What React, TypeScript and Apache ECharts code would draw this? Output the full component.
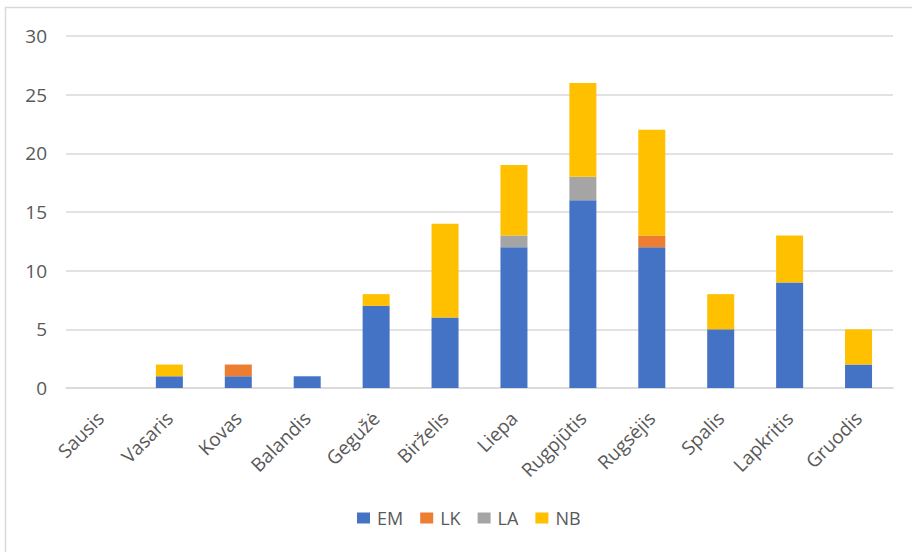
import React, { useEffect, useRef } from "react";
import * as echarts from "echarts";

const categories = ["Sausis", "Vasaris", "Kovas", "Balandis", "Gegužė", "Birželis", "Liepa", "Rugpjūtis", "Rugsėjis", "Spalis", "Lapkritis", "Gruodis"];
const emValues = [0, 1, 1, 1, 7, 6, 12, 16, 12, 5, 9, 2];
const lkValues = [0, 0, 1, 0, 0, 0, 0, 0, 1, 0, 0, 0];
const laValues = [0, 0, 0, 0, 0, 0, 1, 2, 0, 0, 0, 0];
const nbValues = [0, 1, 0, 0, 1, 8, 6, 8, 9, 3, 4, 3];

const seriesNames = ["EM", "LK", "LA", "NB"];
const seriesColors = ["#4472C4", "#ED7D31", "#A5A5A5", "#FFC000"];
const seriesData = [emValues, lkValues, laValues, nbValues];

const FONT = "'Open Sans', 'Noto Sans', sans-serif";

export default function App() {
  const ref = useRef<HTMLDivElement>(null);
  useEffect(() => {
    document.body.style.margin = "0";
    const chart = echarts.init(ref.current!, null, { renderer: "svg" });
    chart.setOption({
      animation: false,
      backgroundColor: "#ffffff",
      textStyle: { fontFamily: FONT },
      graphic: [
        {
          type: "rect",
          shape: { x: 5.5, y: 7.5, width: 930, height: 580 },
          style: { fill: "none", stroke: "#d9d9d9", lineWidth: 1.5 },
          silent: true,
          z: -10,
        },
      ],
      grid: { left: 66, right: 19, top: 36, bottom: 164, containLabel: false },
      legend: {
        top: 509,
        left: 357,
        padding: 0,
        itemWidth: 13,
        itemHeight: 11,
        itemGap: 17,
        icon: "rect",
        textStyle: { color: "#595959", fontSize: 18, fontFamily: FONT, padding: [0, 0, 0, 2] },
        data: seriesNames,
      },
      xAxis: {
        type: "category",
        data: categories,
        axisLine: { lineStyle: { color: "#d9d9d9", width: 1.5 } },
        axisTick: { show: false },
        axisLabel: { rotate: 45, color: "#595959", fontSize: 19, fontFamily: FONT, margin: 27, interval: 0 },
      },
      yAxis: {
        type: "value",
        min: 0,
        max: 30,
        interval: 5,
        axisLine: { show: false },
        axisTick: { show: false },
        splitLine: { lineStyle: { color: "#d9d9d9", width: 1.5 } },
        axisLabel: { color: "#595959", fontSize: 19, fontFamily: FONT, margin: 19 },
      },
      series: seriesNames.map((name, i) => ({
        name,
        type: "bar",
        stack: "total",
        barWidth: 27,
        itemStyle: { color: seriesColors[i] },
        data: seriesData[i].map((v) => (v === 0 ? null : v)),
      })),
    });
    return () => chart.dispose();
  }, []);
  return <div ref={ref} style={{ width: 912, height: 552 }} />;
}
